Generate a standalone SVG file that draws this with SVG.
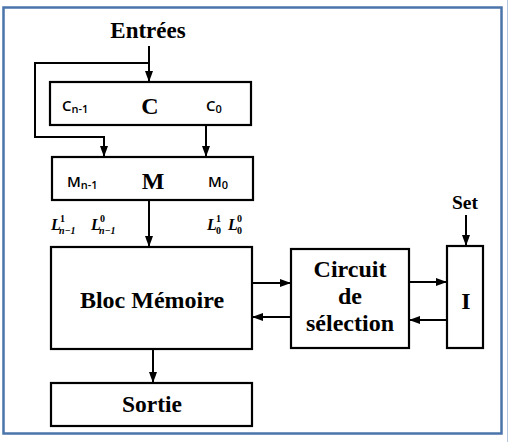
<svg xmlns="http://www.w3.org/2000/svg" width="508" height="442" viewBox="0 0 508 442">
<style>
.box{fill:#fff;stroke:#000;stroke-width:2.2}
.t{font-family:"Liberation Serif","Times New Roman",serif;font-weight:bold;fill:#000;text-anchor:middle}
.s{font-family:"Open Sans","Liberation Sans",sans-serif;font-weight:600;fill:#000}
.m{font-family:"Liberation Serif","Times New Roman",serif;font-weight:bold;font-style:italic;fill:#000}
.d{font-family:"Liberation Serif","Times New Roman",serif;font-weight:bold;fill:#000}
.c{fill:none;stroke:#000;stroke-width:2}
</style>
<defs>
<marker id="ah" markerUnits="userSpaceOnUse" markerWidth="11" markerHeight="11" viewBox="0 0 11 11" refX="11" refY="5.5" orient="auto">
<path d="M0,1.5 L11,5.5 L0,9.5 Z" fill="#000"/>
</marker>
</defs>
<rect x="0" y="0" width="508" height="442" fill="#fff"/>
<rect x="3.5" y="7.5" width="498" height="426" fill="none" stroke="#4a74aa" stroke-width="2.5"/>
<line x1="507.5" y1="0" x2="507.5" y2="442" stroke="#b3c7e0" stroke-width="1"/>

<g id="connectors">
<path class="c" d="M149,46 V82" marker-end="url(#ah)"/>
<path class="c" d="M149,63 H35 V137 H104 V157" marker-end="url(#ah)"/>
<path class="c" d="M206,125 V157" marker-end="url(#ah)"/>
<path class="c" d="M149,200 V247" marker-end="url(#ah)"/>
<path class="c" d="M153,349 V383" marker-end="url(#ah)"/>
<path class="c" d="M252,283 H291" marker-end="url(#ah)"/>
<path class="c" d="M291,317 H252" marker-end="url(#ah)"/>
<path class="c" d="M409,282 H447" marker-end="url(#ah)"/>
<path class="c" d="M450,320 H409" marker-end="url(#ah)"/>
<path class="c" d="M466,215 V246" marker-end="url(#ah)"/>
</g>

<g id="entrees">
<text class="t" x="148" y="38" font-size="23">Entrées</text>
</g>

<g id="C">
<rect class="box" x="50" y="82" width="201" height="43"/>
<text class="s" x="62" y="111" font-size="15">C<tspan font-size="11" dy="2">n-1</tspan></text>
<text class="t" x="150" y="114" font-size="24">C</text>
<text class="s" x="206" y="111" font-size="15">C<tspan font-size="11" dy="2">0</tspan></text>
</g>

<g id="M">
<rect class="box" x="52" y="157" width="201" height="43"/>
<text class="s" x="67" y="187" font-size="15">M<tspan font-size="11" dy="2">n-1</tspan></text>
<text class="t" x="153" y="189" font-size="24">M</text>
<text class="s" x="208" y="187" font-size="15">M<tspan font-size="11" dy="2">0</tspan></text>
</g>

<g id="labels">
<text class="m" x="51" y="230" font-size="16">L</text>
<text class="d" x="60" y="222" font-size="10">1</text>
<text class="m" x="59" y="234" font-size="10">n−1</text>
<text class="m" x="91" y="230" font-size="16">L</text>
<text class="d" x="100" y="222" font-size="10">0</text>
<text class="m" x="99" y="234" font-size="10">n−1</text>
<text class="m" x="207" y="230" font-size="16">L</text>
<text class="d" x="216" y="222" font-size="10">1</text>
<text class="d" x="216" y="234" font-size="10">0</text>
<text class="m" x="228" y="230" font-size="16">L</text>
<text class="d" x="237" y="222" font-size="10">0</text>
<text class="d" x="237" y="234" font-size="10">0</text>
</g>

<g id="bloc">
<rect class="box" x="51" y="247" width="201" height="102"/>
<text class="t" x="152" y="308" font-size="24">Bloc Mémoire</text>
</g>

<g id="sortie">
<rect class="box" x="51" y="383" width="201" height="43"/>
<text class="t" x="152" y="412" font-size="23.5">Sortie</text>
</g>

<g id="circuit">
<rect class="box" x="291" y="249" width="118" height="99"/>
<text class="t" x="350" y="277" font-size="24">Circuit</text>
<text class="t" x="350" y="304" font-size="24">de</text>
<text class="t" x="350" y="331" font-size="24">sélection</text>
</g>

<g id="I">
<rect class="box" x="447" y="246" width="36" height="102"/>
<text class="t" x="466" y="309" font-size="24">I</text>
</g>

<g id="set">
<text class="t" x="465" y="209" font-size="19.5">Set</text>
</g>
</svg>
